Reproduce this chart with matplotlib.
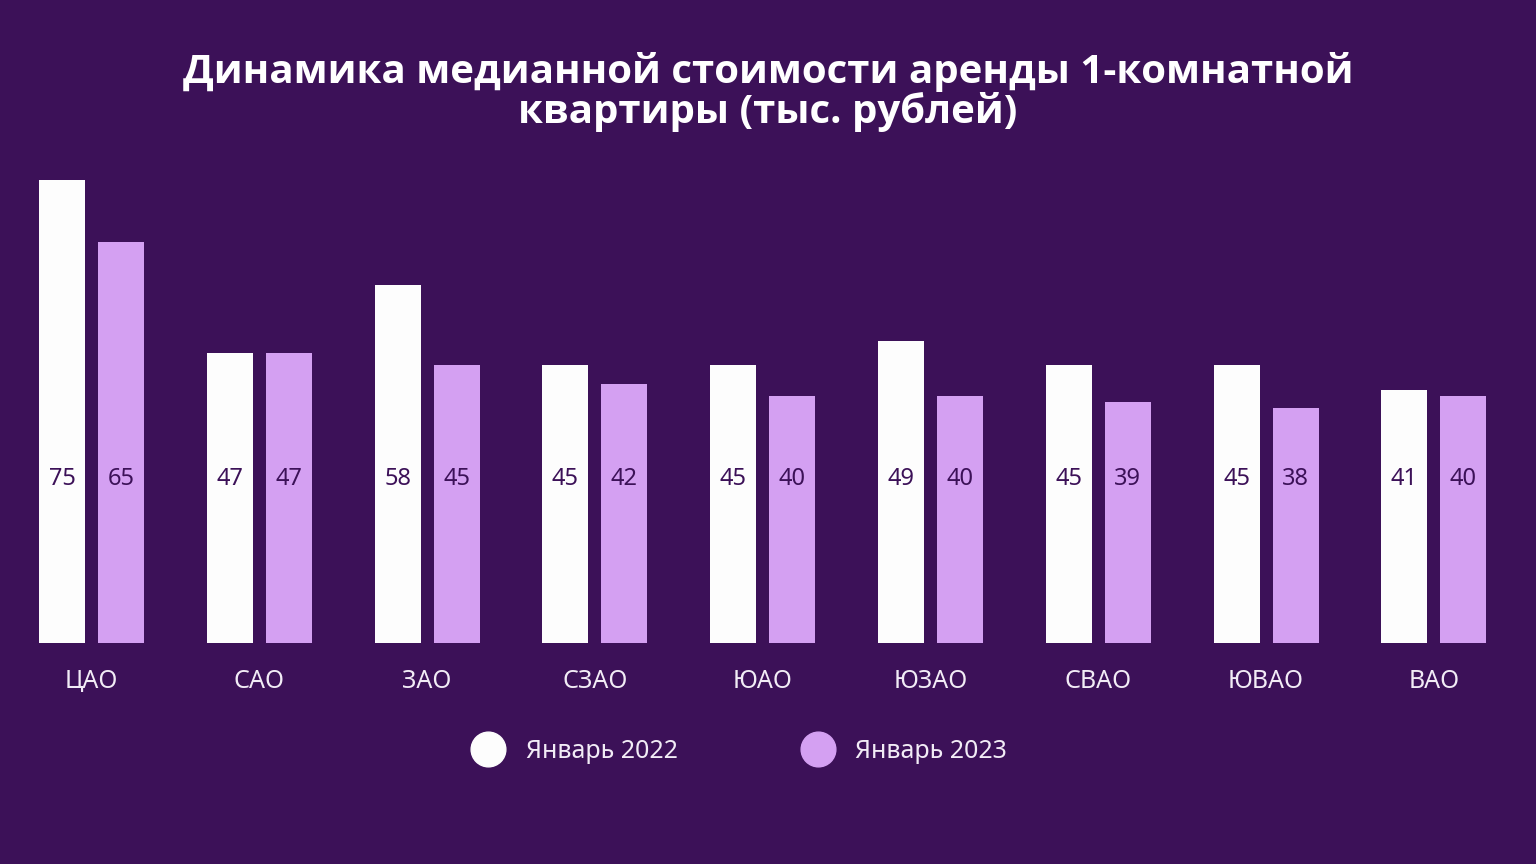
import matplotlib
matplotlib.use("Agg")
import matplotlib.pyplot as plt
from matplotlib.lines import Line2D
import numpy as np

categories = ["ЦАО", "САО", "ЗАО", "СЗАО", "ЮАО", "ЮЗАО", "СВАО", "ЮВАО", "ВАО"]
jan_2022 = [75, 47, 58, 45, 45, 49, 45, 45, 41]
jan_2023 = [65, 47, 45, 42, 40, 40, 39, 38, 40]
series_names = ["Январь 2022", "Январь 2023"]
title = "Динамика медианной стоимости аренды 1-комнатной\nквартиры (тыс. рублей)"

BG = "#3C1158"
WHITE = "#FDFDFD"
PURPLE = "#D4A0F2"
TXT = "#F2ECF6"

plt.rcParams['font.family'] = ['Noto Sans', 'DejaVu Sans']

W, H = 1536, 864
fig = plt.figure(figsize=(W / 100, H / 100), dpi=100, facecolor=BG)

# axes: baseline at y=643px, value 75 at y=180px
ax = fig.add_axes([0, (H - 643) / H, 1, 463 / H])
ax.set_facecolor(BG)
step = 167.8
c0 = 91.5
x = np.arange(len(categories))
bw = 46 / step
off = 29.5 / step
ax.bar(x - off, jan_2022, width=bw, color=WHITE)
ax.bar(x + off, jan_2023, width=bw, color=PURPLE)
ax.set_xlim(-c0 / step, (W - c0) / step)
ax.set_ylim(0, 75)
for i in range(len(categories)):
    ax.text(x[i] - off, 26.6, str(jan_2022[i]), ha="center", va="center",
            fontsize=17, color=BG)
    ax.text(x[i] + off, 26.6, str(jan_2023[i]), ha="center", va="center",
            fontsize=17, color=BG)
ax.set_xticks(x)
ax.set_xticklabels(categories, fontsize=18, color=TXT)
ax.tick_params(axis="x", length=0, pad=19)
ax.set_yticks([])
for s in ax.spines.values():
    s.set_visible(False)

fig.text(0.5, 1 - 92 / H, title, ha="center", va="center", fontsize=29,
         fontweight="bold", color="white", linespacing=1.0,
         family=['Open Sans', 'DejaVu Sans'])

handles = [Line2D([], [], marker="o", linestyle="none", markersize=25,
                  markerfacecolor=c, markeredgecolor=c) for c in (WHITE, PURPLE)]
leg = fig.legend(handles, series_names, loc="center", bbox_to_anchor=(740 / W, 1 - 751 / H),
                 ncol=2, frameon=False, fontsize=18, labelcolor=TXT,
                 handletextpad=0.9, columnspacing=5.0, handlelength=1.2)

fig.savefig("out.png", dpi=100, facecolor=BG)
